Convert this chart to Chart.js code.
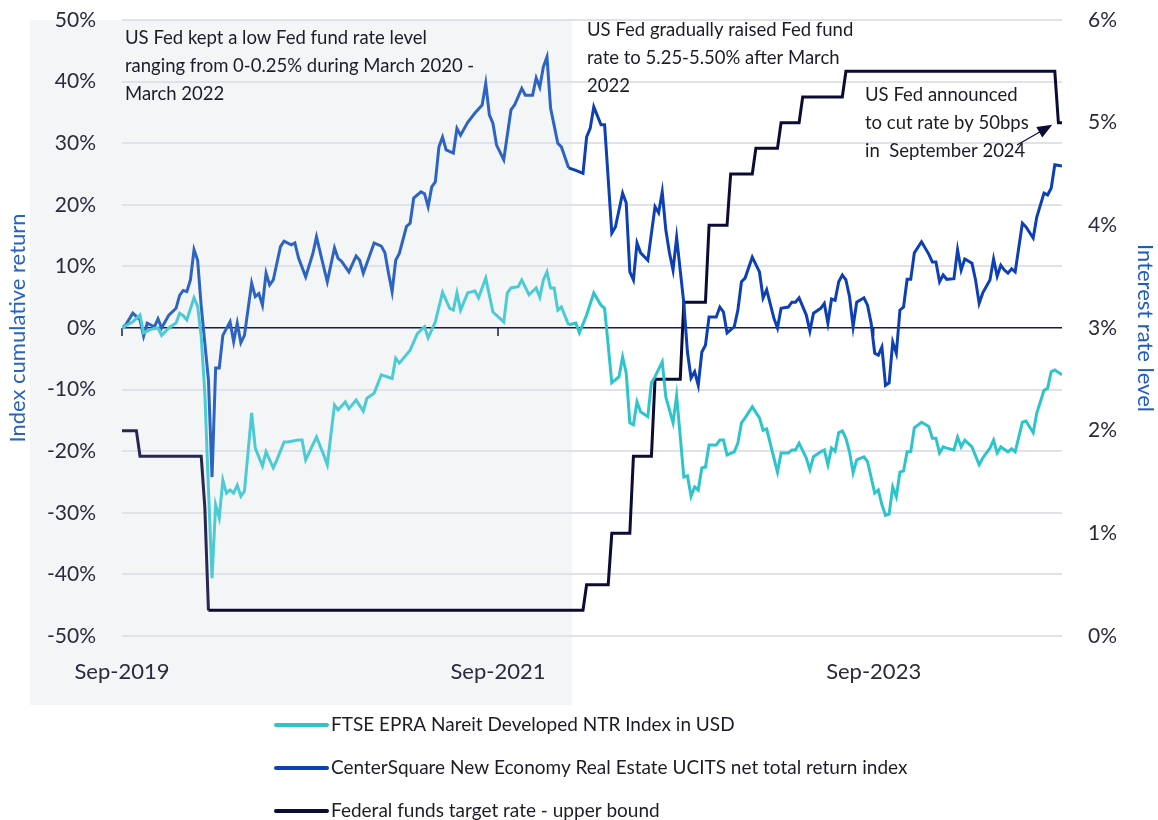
<!DOCTYPE html>
<html>
<head>
<meta charset="utf-8">
<script src="https://cdn.jsdelivr.net/npm/chart.js@4.4.0/dist/chart.umd.min.js"></script>
<style>
  html, body { margin: 0; padding: 0; background: #fff; }
  #wrap { width: 1158px; height: 820px; }
</style>
</head>
<body>
<div id="wrap"><canvas id="chart" width="1158" height="820"></canvas></div>
<script>
// x values are weeks since end of Sep 2019
const tickWeeks = [0, 104.4, 208.7];
const tickLabels = ['Sep-2019', 'Sep-2021', 'Sep-2023'];
const shadeEndWeek = 125; // ~March 2022

const ftseWeeks = [
  0, 3, 5, 6, 8, 10, 11, 13, 15, 16,
  17, 18, 20, 21, 22, 23, 24, 25, 26, 27,
  28, 29, 30, 31, 32, 33, 34, 36, 37, 39,
  40, 42, 43, 45, 46, 49, 50, 51, 54, 56,
  57, 59, 60, 62, 63, 65, 67, 68, 70, 72,
  75, 76, 77, 80, 82, 84, 85, 87, 89, 91,
  92, 93, 94, 96, 98, 99, 101, 103, 106, 107,
  108, 110, 111, 113, 115, 116, 117, 118, 119, 120,
  121, 122, 124, 126, 127, 129, 131, 133, 134, 136,
  138, 139, 140, 141, 142, 143, 144, 146, 147, 148,
  150, 151, 152, 153, 154, 156, 157, 158, 159, 160,
  161, 162, 163, 165, 166, 167, 168, 170, 171, 172,
  173, 175, 177, 178, 179, 181, 182, 183, 185, 186,
  187, 188, 190, 191, 192, 194, 195, 196, 197, 198,
  199, 200, 201, 202, 203, 204, 206, 207, 209, 210,
  211, 212, 213, 214, 215, 216, 217, 218, 219, 220,
  222, 224, 225, 226, 227, 228, 229, 231, 232, 233,
  234, 236, 238, 239, 241, 242, 243, 244, 246, 247,
  248, 250, 251, 253, 254, 256, 257, 258, 259, 261
];
const ftseValues = [
  0, 1, 2.1, -0.8, -0.2, 0, -1.2, 0, 0.8, 2.4,
  2, 1.3, 4.9, 3.5, -1.4, -10.6, -26, -40.6, -28.7, -30.8,
  -24.7, -26.8, -26.3, -26.8, -25.5, -27.3, -26.5, -13.8, -19.5, -22.4,
  -20.1, -22.7, -21.4, -18.5, -18.5, -18.2, -18.2, -21.4, -17.7, -20.6,
  -22.2, -12.5, -13.3, -12, -13.1, -11.7, -13.5, -11.4, -10.6, -7.6,
  -8.2, -4.9, -5.7, -3.6, -0.9, 0.2, -1.6, 1, 5.8, 3.2,
  2.9, 5.7, 2.9, 5.7, 6, 4.9, 8.1, 2.6, 1, 5.7,
  6.5, 6.7, 7.8, 5.4, 6.5, 5, 7.8, 9.1, 6.5, 6.5,
  2.9, 3.4, 0.5, 0.8, -0.8, 2.1, 5.7, 3.7, 3.2, -8.9,
  -7.9, -4.7, -7.3, -15.4, -15.7, -12, -13.6, -14.4, -8.9, -7.9,
  -5.5, -11.2, -13.3, -15.4, -11, -24.2, -24, -27.3, -25.8, -26.3,
  -22.7, -22.6, -19, -19, -18.2, -18.2, -20.6, -20.1, -18.7, -15.4,
  -14.6, -12.8, -14.6, -16.6, -16.4, -21.1, -23.4, -20.3, -20.3, -19.8,
  -19.8, -18.7, -21.1, -23, -20.9, -20.1, -19.8, -22.2, -19.5, -20,
  -17, -16.7, -17.9, -20.1, -23.5, -21.4, -20.9, -21.7, -26.8, -26.3,
  -28.7, -30.4, -30.2, -25.8, -27.4, -23.4, -23.2, -20.1, -20.1, -16.2,
  -15.3, -16, -17.9, -17.9, -20.3, -19.3, -19.5, -19.8, -17.7, -19.3,
  -18.2, -19.3, -22.2, -21.1, -19.5, -18.2, -20.3, -19.3, -20.1, -19.6,
  -20.1, -15.3, -15.1, -17, -13.8, -10.1, -9.8, -7.1, -6.8, -7.6
];

const csWeeks = [
  0, 1, 3, 5, 6, 7, 9, 10, 11, 13,
  15, 16, 17, 18, 19, 20, 21, 22, 24, 25,
  26, 27, 28, 30, 31, 32, 33, 34, 36, 37,
  38, 39, 40, 41, 42, 44, 45, 47, 48, 49,
  51, 53, 54, 56, 57, 59, 60, 61, 63, 65,
  66, 67, 70, 72, 73, 74, 75, 76, 77, 79,
  80, 81, 83, 84, 85, 86, 87, 88, 89, 90,
  92, 93, 94, 96, 98, 100, 101, 102, 103, 104,
  106, 108, 109, 111, 112, 114, 115, 116, 117, 118,
  119, 121, 122, 124, 126, 128, 129, 130, 131, 133,
  134, 136, 137, 139, 140, 141, 142, 143, 144, 146,
  148, 149, 150, 151, 152, 153, 154, 156, 157, 158,
  159, 160, 161, 162, 163, 165, 166, 167, 168, 170,
  171, 172, 173, 175, 177, 178, 179, 181, 182, 183,
  185, 186, 187, 188, 190, 191, 192, 194, 195, 196,
  197, 198, 199, 200, 201, 202, 203, 204, 206, 207,
  208, 209, 210, 211, 212, 213, 214, 215, 216, 217,
  218, 219, 220, 222, 224, 225, 226, 227, 228, 229,
  231, 232, 233, 234, 236, 237, 238, 239, 241, 242,
  243, 244, 245, 246, 247, 248, 250, 251, 253, 254,
  256, 257, 258, 259, 261
];
const csValues = [
  0, 0.5, 2.4, 1.3, -1.3, 0.8, 0.2, 1.5, 0, 2.1,
  3.2, 5.3, 6.1, 5.9, 7.8, 12.7, 11, 3.5, -8.4, -24.2,
  -6.5, -6.5, -1.2, 1, -2.2, 0.8, -2.4, -1.2, 7.3, 5.1,
  5.6, 3.7, 8.9, 7, 7.8, 13.2, 14.1, 13.5, 13.8, 11.4,
  8.3, 12.1, 14.8, 9.9, 7.5, 13, 11.3, 10.8, 9.1, 11.7,
  11, 8.9, 13.8, 13.3, 12.2, 8.9, 5.9, 11, 12.1, 16.5,
  17, 21.1, 22.1, 21.8, 19.7, 22.9, 23.7, 29.4, 31, 28.9,
  28.4, 32.4, 31.3, 33.4, 34.9, 36.2, 39.7, 34.6, 33.2, 29.7,
  27.3, 35.4, 36.2, 38.9, 37.8, 37.8, 40.6, 39.1, 42.4, 44,
  35.7, 30, 29.4, 26, 25.6, 25.1, 31, 32.4, 35.9, 33,
  33, 15.4, 16.4, 21.9, 20.3, 9.1, 7.8, 13.8, 12.2, 11,
  19.7, 18.7, 22.1, 15.9, 12.2, 9.4, 14.7, 4, -3.9, -8.1,
  -7.1, -9.3, -3.9, -2.8, 1.8, 1.8, 3.4, 2.6, -0.8, 0.2,
  2.9, 7.5, 8.1, 11.5, 9.1, 4.9, 6.2, 1.6, 0, 3.2,
  3.4, 4.2, 4.2, 4.9, 2.1, -0.5, 2.4, 3.2, 4, 0.8,
  4.7, 4.5, 7.5, 8.6, 7.8, 5.1, 0.2, 4.2, 4.9, 3.7,
  0.8, -4.1, -4.4, -3.1, -9.3, -8.9, -2.3, -4.1, 2.9, 3.4,
  7.9, 7.9, 12.2, 14, 12, 10.7, 10.7, 7.5, 8.6, 7.9,
  8, 12.7, 9.4, 11.2, 10.5, 7.8, 4, 5.7, 7.8, 11.2,
  8.4, 10.2, 9.4, 8.9, 9.6, 9.1, 17, 16.4, 14.6, 18,
  21.9, 21.6, 22.7, 26.5, 26.3
];

const fedWeeks = [0, 4, 5, 22, 23, 24, 128, 129, 135, 136, 141, 142, 147, 148, 155, 156,
  162, 163, 168, 169, 175, 176, 182, 183, 188, 189, 200, 201, 259, 260, 261];
const fedRates = [2.0, 2.0, 1.75, 1.75, 1.25, 0.25, 0.25, 0.5, 0.5, 1.0, 1.0, 1.75, 1.75, 2.5, 2.5, 3.25,
  3.25, 4.0, 4.0, 4.5, 4.5, 4.75, 4.75, 5.0, 5.0, 5.25, 5.25, 5.5, 5.5, 5.0, 5.0];

const seriesNames = [
  'FTSE EPRA Nareit Developed NTR Index in USD',
  'CenterSquare New Economy Real Estate UCITS net total return index',
  'Federal funds target rate - upper bound'
];
const seriesColors = ['#2ec4cc', '#0d40b5', '#0b0c36'];
const shadedColors = ['#4ccbd5', '#2d64c2', '#262853'];

const notes = [
  { x: 125, y: 38, lines: ['US Fed kept a low Fed fund rate level', 'ranging from 0-0.25% during March 2020 -', 'March 2022'] },
  { x: 587, y: 30, lines: ['US Fed gradually raised Fed fund', 'rate to 5.25-5.50% after March', '2022'] },
  { x: 865, y: 95, lines: ['US Fed announced', 'to cut rate by 50bps', 'in  September 2024'] }
];

const FONT = 'Lato, "Open Sans", sans-serif';
const TEXT = '#2a2a3c';
const NONE = 'rgba(0,0,0,0)';

function toPoints(xs, ys) {
  return xs.map((x, i) => ({ x: x, y: ys[i] }));
}

function lineSet(i, data, axis) {
  return {
    label: seriesNames[i],
    data: data,
    yAxisID: axis,
    borderColor: seriesColors[i],
    borderWidth: 3,
    pointRadius: 0,
    tension: 0,
    segment: {
      borderColor: ctx => ctx.p1.parsed.x <= shadeEndWeek ? shadedColors[i] : seriesColors[i]
    }
  };
}

const decor = {
  id: 'decor',
  beforeDraw(chart) {
    const { ctx, chartArea, scales } = chart;
    const xr = scales.x.getPixelForValue(shadeEndWeek);
    ctx.save();
    ctx.fillStyle = '#f4f5f7';
    ctx.fillRect(30, chartArea.top, xr - 30, 705 - chartArea.top);
    ctx.restore();
  },
  beforeDatasetsDraw(chart) {
    // small tick marks hanging under the zero line
    const { ctx, scales } = chart;
    const y0 = scales.y.getPixelForValue(0);
    ctx.save();
    ctx.strokeStyle = '#1b1b45';
    ctx.lineWidth = 1.5;
    tickWeeks.forEach(w => {
      const x = scales.x.getPixelForValue(w);
      ctx.beginPath();
      ctx.moveTo(x, y0);
      ctx.lineTo(x, y0 + 8);
      ctx.stroke();
    });
    ctx.restore();
  },
  afterDraw(chart) {
    const { ctx, scales } = chart;
    ctx.save();
    ctx.fillStyle = '#1c1c28';
    ctx.font = '18.5px ' + FONT;
    ctx.textBaseline = 'middle';
    notes.forEach(n => {
      n.lines.forEach((t, k) => ctx.fillText(t, n.x, n.y + k * 28));
    });

    // arrow to the September 2024 cut
    const tipX = scales.x.getPixelForValue(258.3);
    const tipY = scales.y2.getPixelForValue(4.98);
    const fromX = 1017, fromY = 145;
    const ang = Math.atan2(tipY - fromY, tipX - fromX);
    ctx.strokeStyle = '#0b0c36';
    ctx.fillStyle = '#0b0c36';
    ctx.lineWidth = 1.2;
    ctx.beginPath();
    ctx.moveTo(fromX, fromY);
    ctx.lineTo(tipX - 12 * Math.cos(ang), tipY - 12 * Math.sin(ang));
    ctx.stroke();
    ctx.beginPath();
    ctx.moveTo(tipX, tipY);
    ctx.lineTo(tipX - 15 * Math.cos(ang) + 6 * Math.sin(ang), tipY - 15 * Math.sin(ang) - 6 * Math.cos(ang));
    ctx.lineTo(tipX - 15 * Math.cos(ang) - 6 * Math.sin(ang), tipY - 15 * Math.sin(ang) + 6 * Math.cos(ang));
    ctx.closePath();
    ctx.fill();

    // legend, one row per series
    ctx.font = '19px ' + FONT;
    ctx.lineCap = 'round';
    chart.data.datasets.forEach((ds, k) => {
      const y = 725 + k * 43;
      ctx.strokeStyle = seriesColors[k];
      ctx.lineWidth = 4;
      ctx.beginPath();
      ctx.moveTo(276, y);
      ctx.lineTo(327, y);
      ctx.stroke();
      ctx.fillStyle = '#1c1c28';
      ctx.fillText(ds.label, 331, y);
    });
    ctx.restore();
  }
};

new Chart(document.getElementById('chart'), {
  type: 'line',
  data: {
    datasets: [
      lineSet(0, toPoints(ftseWeeks, ftseValues), 'y'),
      lineSet(1, toPoints(csWeeks, csValues), 'y'),
      lineSet(2, toPoints(fedWeeks, fedRates), 'y2')
    ]
  },
  options: {
    responsive: false,
    animation: false,
    devicePixelRatio: 1,
    layout: { padding: { top: 20, left: 0, right: 0, bottom: 0 } },
    plugins: { legend: { display: false }, tooltip: { enabled: false } },
    scales: {
      x: {
        type: 'linear',
        min: 0,
        max: 261,
        grid: { display: false, drawTicks: false },
        border: { display: false },
        afterBuildTicks(s) { s.ticks = tickWeeks.map(v => ({ value: v })); },
        afterFit(s) { s.height = 184; },
        ticks: {
          autoSkip: false,
          maxRotation: 0,
          padding: 23,
          color: TEXT,
          font: { family: FONT, size: 22 },
          callback: (v, i) => tickLabels[i]
        }
      },
      y: {
        position: 'left',
        min: -50,
        max: 50,
        afterFit(s) { s.width = 122; },
        grid: {
          drawTicks: true,
          tickLength: 26,
          tickColor: NONE,
          color: c => c.tick.value === 0 ? '#1b1b45' : '#dfe2e8',
          lineWidth: c => c.tick.value === 0 ? 1.5 : 2
        },
        border: { display: false },
        ticks: {
          stepSize: 10,
          padding: 0,
          color: TEXT,
          font: { family: FONT, size: 21 },
          callback: v => v + '%'
        },
        title: {
          display: true,
          text: 'Index cumulative return',
          color: '#2a62c0',
          font: { family: FONT, size: 22 },
          padding: { top: 5, bottom: 0 }
        }
      },
      y2: {
        position: 'right',
        min: 0,
        max: 6,
        afterFit(s) { s.width = 96; },
        grid: {
          display: true,
          drawOnChartArea: false,
          drawTicks: true,
          tickLength: 26,
          color: NONE,
          tickColor: NONE
        },
        border: { display: false },
        ticks: {
          stepSize: 1,
          padding: 0,
          color: TEXT,
          font: { family: FONT, size: 21 },
          callback: v => v + '%'
        },
        title: {
          display: true,
          text: 'Interest rate level',
          color: '#1f5cc0',
          font: { family: FONT, size: 22 },
          padding: { top: 0, bottom: 0 }
        }
      }
    }
  },
  plugins: [decor]
});
</script>
</body>
</html>
